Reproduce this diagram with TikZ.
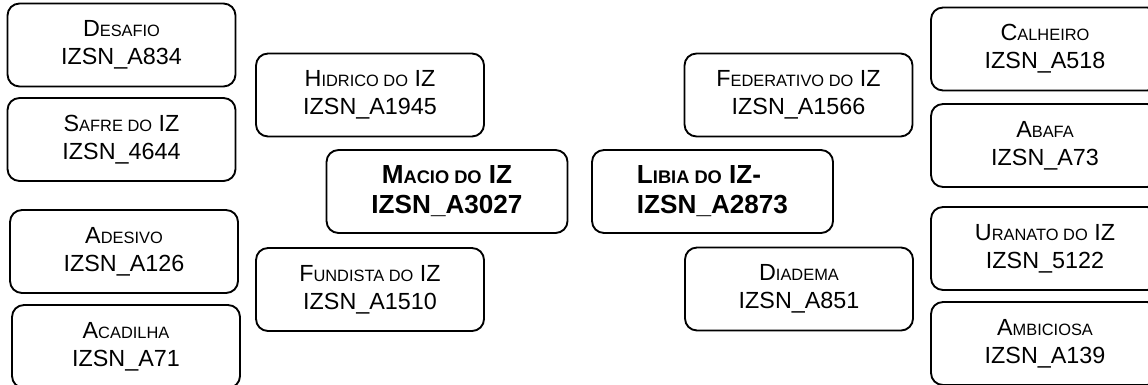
\documentclass[tikz,border=0pt]{standalone}
\usepackage{fontspec}
\setmainfont{Liberation Sans}
\newcommand\smc[1]{{\fontsize{12.3}{21}\selectfont #1}}
\newcommand\bsmc[1]{{\fontsize{13.7}{23}\selectfont #1}}
\begin{document}
\begin{tikzpicture}[x=0.75pt,y=-0.75pt,
  box/.style={draw=black,line width=1.4pt,rounded corners=9pt,fill=white,
    minimum width=228*0.75pt,minimum height=83*0.75pt,inner sep=0pt,
    align=center,font=\fontsize{17.5}{21}\selectfont},
  mainbox/.style={box,minimum width=241*0.75pt,font=\fontsize{19.6}{22.5}\selectfont\bfseries}]
\useasboundingbox (0,0) rectangle (1148,385);
\node[box] (desafio) at (121.5,45) {D\smc{ESAFIO}\\IZSN\_A834};
\node[box] (safre) at (121.5,139.5) {S\smc{AFRE DO} IZ\\IZSN\_4644};
\node[box] (adesivo) at (124,251.5) {A\smc{DESIVO}\\IZSN\_A126};
\node[box] (acadilha) at (126,346.5) {A\smc{CADILHA}\\IZSN\_A71};
\node[box] (hidrico) at (370,95) {H\smc{IDRICO DO} IZ\\IZSN\_A1945};
\node[mainbox] (macio) at (447,191.5) {M\bsmc{ACIO DO} IZ\\IZSN\_A3027};
\node[box] (fundista) at (370,289.5) {F\smc{UNDISTA DO} IZ\\IZSN\_A1510};
\node[box] (federativo) at (798.5,95) {F\smc{EDERATIVO DO} IZ\\IZSN\_A1566};
\node[mainbox,align=left] (libia) at (712.5,191.5) {L\bsmc{IBIA DO} IZ-\\IZSN\_A2873};
\node[box] (diadema) at (799,289) {D\smc{IADEMA}\\IZSN\_A851};
\node[box] (calheiro) at (1045,49) {C\smc{ALHEIRO}\\IZSN\_A518};
\node[box] (abafa) at (1045,145.5) {A\smc{BAFA}\\IZSN\_A73};
\node[box] (uranato) at (1045,248.5) {U\smc{RANATO DO} IZ\\IZSN\_5122};
\node[box] (ambiciosa) at (1045,343.5) {A\smc{MBICIOSA}\\IZSN\_A139};
\end{tikzpicture}
\end{document}
